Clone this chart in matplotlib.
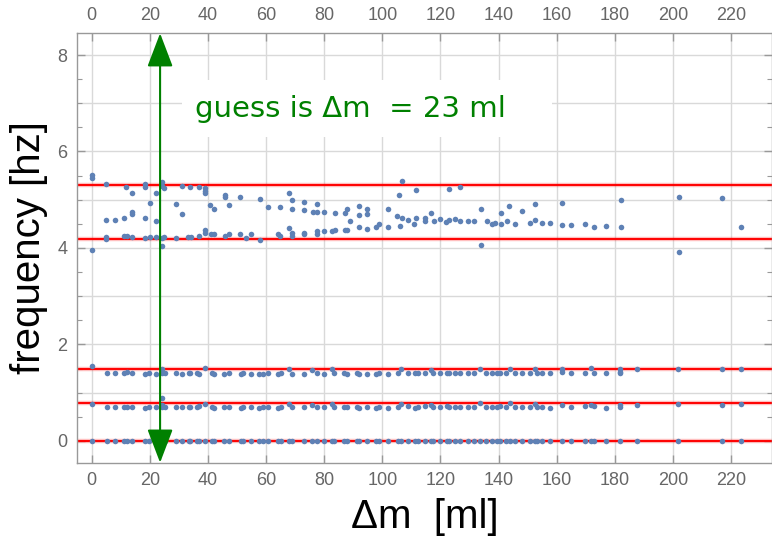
import matplotlib
matplotlib.use('Agg')
from matplotlib import pyplot as plt
from matplotlib.patches import FancyArrowPatch, Rectangle

# measured mass differences [ml] (each one gives points in the low bands)
dm = [0, 5.2, 8, 11.1, 12, 14, 18.3, 19.7, 22.1, 24.3,
      25.2, 29, 31, 33.3, 33.8, 36.1, 37, 39, 41.3, 42.1,
      45.5, 47.3, 51.3, 52, 54.7, 57.7, 58.9, 60.8, 64.2, 65,
      67.9, 68.8, 73.2, 75.9, 77.4, 80, 82.8, 83.5, 86.9, 88,
      91.4, 92.1, 94.7, 97.9, 99, 102.1, 105.3, 106.5, 108.8, 111.3,
      112.2, 114.7, 116.7, 117.6, 119.9, 122.2, 123.1, 125.1, 126.8, 129.6,
      131.6, 133.7, 135.7, 137.7, 139.4, 140.6, 142.6, 143.8, 145.7, 148,
      150.9, 152.6, 153.2, 154.9, 157.8, 162, 165, 169.6, 171.9, 172.7,
      176.9, 181.9, 187.8, 201.9, 216.9, 223.6]

f_zero = [0.0] * len(dm)

f_mid = [0.77, 0.70, 0.71, 0.70, 0.71, 0.71, 0.69, 0.70, 0.71, 0.74,
         0.71, 0.70, 0.70, 0.70, 0.71, 0.70, 0.72, 0.77, 0.71, 0.69,
         0.70, 0.70, 0.69, 0.71, 0.70, 0.69, 0.70, 0.71, 0.69, 0.70,
         0.77, 0.70, 0.70, 0.75, 0.71, 0.70, 0.76, 0.71, 0.70, 0.70,
         0.71, 0.69, 0.70, 0.69, 0.71, 0.69, 0.70, 0.77, 0.72, 0.69,
         0.71, 0.72, 0.75, 0.70, 0.71, 0.72, 0.70, 0.71, 0.70, 0.71,
         0.70, 0.79, 0.71, 0.71, 0.71, 0.72, 0.71, 0.78, 0.70, 0.71,
         0.71, 0.76, 0.71, 0.71, 0.69, 0.74, 0.71, 0.73, 0.74, 0.73,
         0.69, 0.74, 0.74, 0.76, 0.74, 0.76]

f_hi = [1.55, 1.40, 1.40, 1.41, 1.42, 1.41, 1.39, 1.40, 1.39, 1.50,
        1.40, 1.40, 1.39, 1.40, 1.41, 1.40, 1.39, 1.51, 1.40, 1.39,
        1.39, 1.40, 1.39, 1.40, 1.39, 1.39, 1.39, 1.40, 1.39, 1.40,
        1.50, 1.39, 1.39, 1.48, 1.40, 1.39, 1.49, 1.40, 1.40, 1.39,
        1.40, 1.38, 1.39, 1.38, 1.40, 1.39, 1.40, 1.49, 1.41, 1.40,
        1.40, 1.40, 1.48, 1.40, 1.40, 1.40, 1.40, 1.40, 1.40, 1.40,
        1.40, 1.50, 1.40, 1.40, 1.40, 1.40, 1.40, 1.50, 1.40, 1.40,
        1.40, 1.50, 1.40, 1.40, 1.40, 1.50, 1.40, 1.40, 1.52, 1.40,
        1.40, 1.50, 1.49, 1.49, 1.49, 1.49]

# a few repeated measurements in the low bands
extra_dm = [24.3, 24.3, 24.3, 162, 181.9, 181.9, 181.9]
extra_f = [0.90, 0.71, 1.40, 1.42, 1.43, 1.40, 0.70]

# upper band (around 4-5.5 hz)
up_dm = [0, 0, 0, 5, 5, 5, 5, 8.1, 11, 11, 12, 11.9, 14, 14, 14, 14,
         18.2, 18.2, 18.2, 18.2, 20, 20, 22.1, 22.1, 22.1,
         24.2, 24.2, 25, 24.2, 25, 24.2, 28.9, 28.9, 31, 31, 33, 34, 33.9,
         36.9, 37, 39.1, 39.1, 39.1, 39.1, 39.1, 40.8, 41, 42, 42.2,
         45.9, 45.9, 46, 47.1, 47.1, 51, 51, 53, 54.8, 57.8, 58, 60.7,
         64.1, 64.9, 64.9, 68, 69, 69, 68, 69, 69, 73.2, 73.2, 73.2, 73.2,
         76.1, 77.6, 77.6, 77.6, 77.6, 80, 80, 82.7, 83.6, 83.6,
         87.1, 87.9, 87.1, 87.9, 88.8, 91.8, 91.8, 91.8, 94.8, 94.8, 94.8,
         97.8, 99, 102, 102, 105.9, 106.7, 105, 106.7, 106,
         108.8, 110.9, 111.7, 111.7, 114.7, 114.7, 116.9, 117.7,
         119.9, 122, 122.9, 122.9, 125, 126.7, 126.7, 129.6, 131.7,
         133.9, 133.9, 136, 137.7, 138.9, 140.7, 140.7, 142.8, 143.7,
         145.8, 147.9, 150.9, 152.6, 152.6, 154.8, 157.8,
         162, 162, 165, 169.7, 172.7, 176.9, 182, 182, 202, 202, 216.9, 223.6]
up_f = [5.51, 5.45, 3.95, 5.32, 4.58, 4.23, 4.19, 4.58, 4.62, 4.25, 4.25, 5.27, 5.14, 4.75, 4.70, 4.23,
        5.33, 5.27, 4.63, 4.21, 4.94, 4.23, 5.14, 4.55, 4.23,
        5.36, 5.29, 5.24, 4.21, 4.23, 4.04, 4.91, 4.21, 5.29, 4.71, 4.23, 4.23, 5.27,
        5.27, 4.25, 5.24, 5.18, 5.14, 4.37, 4.32, 4.89, 4.28, 4.28, 4.81,
        5.09, 5.06, 4.25, 4.89, 4.30, 5.06, 4.28, 4.21, 4.30, 5.01, 4.17, 4.84,
        4.30, 4.25, 4.84, 5.14, 5.00, 4.81, 4.41, 4.31, 4.25, 4.96, 4.78, 4.31, 4.28,
        4.75, 4.91, 4.75, 4.35, 4.30, 4.75, 4.35, 4.35, 4.37, 4.73,
        4.73, 4.81, 4.37, 4.37, 4.55, 4.86, 4.68, 4.43, 4.81, 4.71, 4.40,
        4.43, 4.50, 4.81, 4.43, 5.09, 5.38, 4.66, 4.63, 4.45,
        4.58, 4.50, 5.20, 4.63, 4.63, 4.55, 4.73, 4.55,
        4.61, 4.53, 4.58, 5.22, 4.61, 5.27, 4.55, 4.55, 4.55,
        4.81, 4.06, 4.55, 4.50, 4.52, 4.73, 4.50, 4.55, 4.88,
        4.50, 4.76, 4.52, 4.91, 4.58, 4.52, 4.52,
        4.94, 4.48, 4.48, 4.50, 4.43, 4.45, 4.99, 4.43, 5.06, 3.91, 5.04, 4.43]

# predicted frequencies for the guess
lines_f = [5.31, 4.19, 1.50, 0.78, 0.0]
guess_dm = 23.5

blue = '#5E81B5'
green = '#008000'
tick_gray = '#666666'
frame_gray = '#999999'
grid_gray = '#d9d9d9'

fig = plt.figure(figsize=(7.72, 5.37), dpi=100)
ax = fig.add_axes([0.1001, 0.1384, 0.8995, 0.7996])

ax.set_xlim(-5, 234)
ax.set_ylim(-0.45, 8.45)

# grid
ax.set_xticks(range(0, 221, 20))
ax.set_yticks([0, 2, 4, 6, 8])
ax.set_yticks([i * 0.5 for i in range(0, 17)], minor=True)
for x in range(0, 221, 20):
    ax.axvline(x, color=grid_gray, lw=1.0, zorder=0)
for y in range(0, 9):
    ax.axhline(y, color=grid_gray, lw=1.0, zorder=0)

# label box hides the grid
ax.add_patch(Rectangle((31.1, 6.3), 127.3, 1.19, facecolor='white',
                       edgecolor='none', zorder=1))

for f in lines_f:
    ax.axhline(f, color='red', lw=3.2, alpha=0.25, zorder=2)
    ax.axhline(f, color='red', lw=1.4, zorder=2)

ax.scatter(dm, f_zero, s=16, color=blue, zorder=3, linewidths=0)
ax.scatter(dm, f_mid, s=16, color=blue, zorder=3, linewidths=0)
ax.scatter(dm, f_hi, s=16, color=blue, zorder=3, linewidths=0)
ax.scatter(extra_dm, extra_f, s=16, color=blue, zorder=3, linewidths=0)
ax.scatter(up_dm, up_f, s=16, color=blue, zorder=3, linewidths=0)

arrow = FancyArrowPatch((guess_dm, -0.45), (guess_dm, 8.45),
                        arrowstyle='<|-|>,head_length=21,head_width=8',
                        mutation_scale=1, shrinkA=0, shrinkB=0,
                        color=green, lw=1.5, zorder=4, clip_on=False)
ax.add_patch(arrow)

ax.text(35.6, 6.72, 'guess is \u0394m  = 23 ml', color=green, fontsize=21,
        family='DejaVu Sans', ha='left', va='baseline', zorder=5)

# frame styling like the original
for side in ax.spines.values():
    side.set_color(frame_gray)
    side.set_linewidth(1.0)
ax.tick_params(which='both', direction='in', color=frame_gray,
               labelcolor=tick_gray, labelsize=13, top=True, right=True,
               labeltop=True, labelbottom=True, labelleft=True, labelright=False)
ax.tick_params(which='major', length=6, width=1.0, pad=7)
ax.tick_params(which='minor', length=3.5, width=0.8)
for lab in ax.get_xticklabels() + ax.get_yticklabels():
    lab.set_family('Liberation Sans')

ax.set_xlabel('\u0394m  [ml]', fontsize=29, family='Liberation Sans', labelpad=6)
ax.set_ylabel('frequency [hz]', fontsize=29, family='Liberation Sans', labelpad=7)

fig.savefig('out.png', dpi=100)
